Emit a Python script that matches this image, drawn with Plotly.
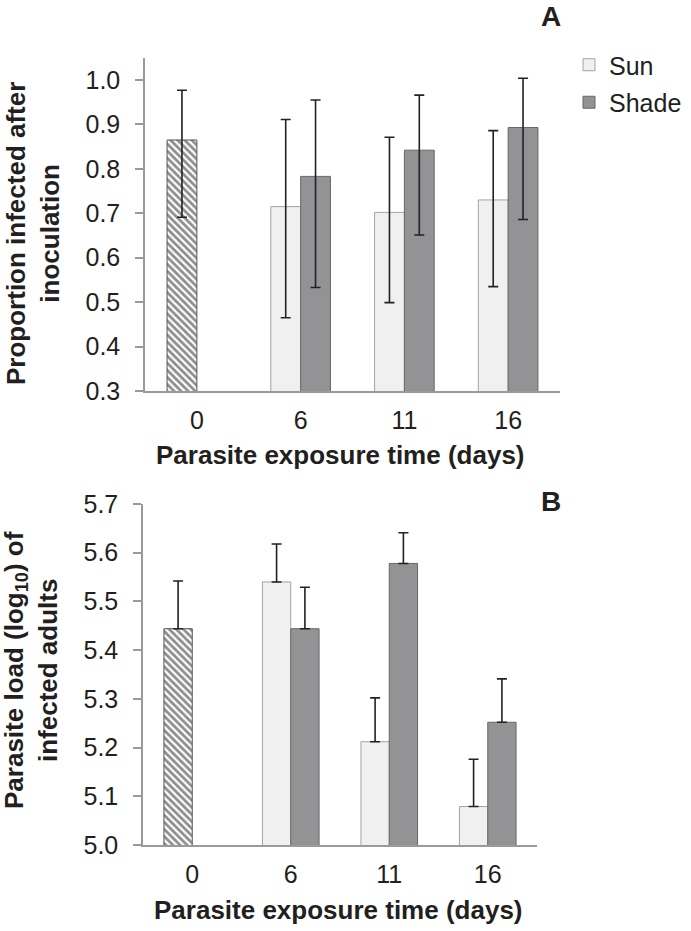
import plotly.graph_objects as go

# ---------------- data ----------------
days = ["0", "6", "11", "16"]
treat_days = ["6", "11", "16"]

# Panel A: proportion infected (bar value, upper and lower CI bound)
prop_ctrl = [0.865]
prop_ctrl_hi = [0.977]
prop_ctrl_lo = [0.691]

prop_sun = [0.715, 0.702, 0.730]
prop_sun_hi = [0.911, 0.871, 0.886]
prop_sun_lo = [0.465, 0.499, 0.535]

prop_shade = [0.783, 0.842, 0.893]
prop_shade_hi = [0.955, 0.966, 1.004]
prop_shade_lo = [0.533, 0.651, 0.686]

# Panel B: parasite load (log10) and upper SE bound
load_ctrl = [5.444]
load_ctrl_hi = [5.542]

load_sun = [5.540, 5.212, 5.079]
load_sun_hi = [5.618, 5.302, 5.176]

load_shade = [5.444, 5.578, 5.252]
load_shade_hi = [5.529, 5.641, 5.341]

# ---------------- styles ----------------
W, H = 691, 931
FONT = "Liberation Sans, Arial, sans-serif"
TXT = "#231f20"
AXC = "#9a9a9a"
SUN_FILL, SUN_LINE = "#f0f0f0", "#a3a3a3"
SHADE_FILL, SHADE_LINE = "#939396", "#68686b"
ERR = dict(color="#222222", thickness=1.6, width=5)
HATCH = dict(shape="\\", fgcolor="#1e1e1e", bgcolor="white", size=5, solidity=0.55)


def up(v, hi):
    return [h - x for x, h in zip(v, hi)]


def dn(v, lo):
    return [x - l for x, l in zip(v, lo)]


fig = go.Figure()

# ---- Panel A ----
fig.add_trace(go.Bar(
    x=["0"], y=prop_ctrl, offsetgroup="sun", xaxis="x", yaxis="y",
    marker=dict(color="white", line=dict(color="#555555", width=1), pattern=HATCH),
    error_y=dict(type="data", symmetric=False, array=up(prop_ctrl, prop_ctrl_hi),
                 arrayminus=dn(prop_ctrl, prop_ctrl_lo), **ERR),
    showlegend=False, name="Control"))
fig.add_trace(go.Bar(
    x=treat_days, y=prop_sun, offsetgroup="sun", xaxis="x", yaxis="y",
    marker=dict(color=SUN_FILL, line=dict(color=SUN_LINE, width=1)),
    error_y=dict(type="data", symmetric=False, array=up(prop_sun, prop_sun_hi),
                 arrayminus=dn(prop_sun, prop_sun_lo), **ERR),
    name="Sun", legendgroup="sun"))
fig.add_trace(go.Bar(
    x=treat_days, y=prop_shade, offsetgroup="shade", xaxis="x", yaxis="y",
    marker=dict(color=SHADE_FILL, line=dict(color=SHADE_LINE, width=1)),
    error_y=dict(type="data", symmetric=False, array=up(prop_shade, prop_shade_hi),
                 arrayminus=dn(prop_shade, prop_shade_lo), **ERR),
    name="Shade", legendgroup="shade"))

# ---- Panel B ----
fig.add_trace(go.Bar(
    x=["0"], y=load_ctrl, offsetgroup="sun", xaxis="x2", yaxis="y2",
    marker=dict(color="white", line=dict(color="#555555", width=1), pattern=HATCH),
    error_y=dict(type="data", symmetric=False, array=up(load_ctrl, load_ctrl_hi),
                 arrayminus=[0], **ERR),
    showlegend=False, name="Control"))
fig.add_trace(go.Bar(
    x=treat_days, y=load_sun, offsetgroup="sun", xaxis="x2", yaxis="y2",
    marker=dict(color=SUN_FILL, line=dict(color=SUN_LINE, width=1)),
    error_y=dict(type="data", symmetric=False, array=up(load_sun, load_sun_hi),
                 arrayminus=[0, 0, 0], **ERR),
    name="Sun", legendgroup="sun", showlegend=False))
fig.add_trace(go.Bar(
    x=treat_days, y=load_shade, offsetgroup="shade", xaxis="x2", yaxis="y2",
    marker=dict(color=SHADE_FILL, line=dict(color=SHADE_LINE, width=1)),
    error_y=dict(type="data", symmetric=False, array=up(load_shade, load_shade_hi),
                 arrayminus=[0, 0, 0], **ERR),
    name="Shade", legendgroup="shade", showlegend=False))

tickfont = dict(family=FONT, size=25, color=TXT)
xcommon = dict(type="category", categoryorder="array", categoryarray=days,
               showline=True, linecolor=AXC, linewidth=1.5, ticks="",
               showgrid=False, zeroline=False, tickfont=tickfont,
               ticklabelstandoff=6, automargin=False)
ycommon = dict(showline=True, linecolor=AXC, linewidth=1.5, ticks="outside",
               ticklen=8, tickcolor=AXC, tickwidth=1.5, showgrid=False,
               zeroline=False, tickfont=tickfont, tickformat=".1f",
               dtick=0.1, ticklabelstandoff=10, automargin=False)

fig.update_layout(
    width=W, height=H, autosize=False,
    margin=dict(l=0, r=0, t=0, b=0, pad=0, autoexpand=False),
    paper_bgcolor="white", plot_bgcolor="white",
    barmode="group", bargap=0.425, bargroupgap=0,
    font=dict(family=FONT, color=TXT),
    xaxis=dict(domain=[145 / W, 560 / W], anchor="y", **xcommon),
    yaxis=dict(domain=[1 - 391 / H, 1 - 58 / H], anchor="x",
               range=[0.3, 1.0495], tick0=0.3, **ycommon),
    xaxis2=dict(domain=[143 / W, 537 / W], anchor="y2", **xcommon),
    yaxis2=dict(domain=[1 - 845 / H, 1 - 504 / H], anchor="x2",
                range=[5.0, 5.7], tick0=5.0, **ycommon),
    legend=dict(x=569 / W, y=1 - 42 / H, xanchor="left", yanchor="top",
                font=dict(family=FONT, size=25, color=TXT),
                bgcolor="rgba(0,0,0,0)", itemwidth=30, tracegroupgap=2,
                borderwidth=0),
    showlegend=True,
)

title_font = dict(family=FONT, size=26, color=TXT)
annotations = [
    dict(text="<b>A</b>", x=551 / W, y=1 - 16 / H, font=dict(family=FONT, size=28, color=TXT)),
    dict(text="<b>B</b>", x=551 / W, y=1 - 501 / H, font=dict(family=FONT, size=28, color=TXT)),
    dict(text="<b>Parasite exposure time (days)</b>", x=340 / W, y=1 - 455 / H, font=title_font),
    dict(text="<b>Parasite exposure time (days)</b>", x=338 / W, y=1 - 910 / H, font=title_font),
    dict(text="<b>Proportion infected after<br>inoculation</b>", x=33 / W, y=1 - 234 / H,
         textangle=-90, font=title_font),
    dict(text="<b>Parasite load (log<sub>10</sub>) of<br>infected adults</b>", x=31 / W,
         y=1 - 670 / H, textangle=-90, font=title_font),
]
for a in annotations:
    a.update(xref="paper", yref="paper", showarrow=False, xanchor="center", yanchor="middle")
    fig.add_annotation(**a)

fig.write_html(
    "out.html",
    config={"displayModeBar": False},
    post_script="document.body.style.margin='0px';document.body.style.padding='0px';"
                "document.body.style.overflow='hidden';",
)
